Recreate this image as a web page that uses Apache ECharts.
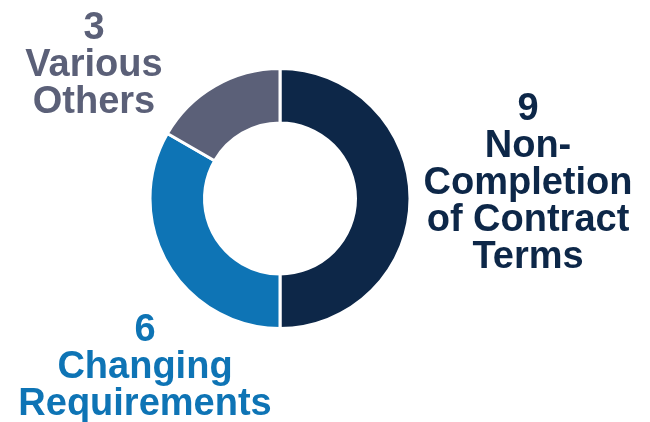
<!DOCTYPE html>
<html>
<head>
<meta charset="utf-8">
<script src="https://cdn.jsdelivr.net/npm/echarts@6/dist/echarts.min.js"></script>
<style>
html,body{margin:0;padding:0;background:#fff;}
#chart{width:650px;height:422px;}
</style>
</head>
<body>
<div id="chart"></div>
<script>
const categories = ['Non-\nCompletion\nof Contract\nTerms', 'Changing\nRequirements', 'Various\nOthers'];
const values = [9, 6, 3];
const colors = ['#0d2748', '#0e74b5', '#5b6078'];

// label anchor positions (layout only)
const labelPos = [
  { x: 528, y: 91 },
  { x: 145, y: 312 },
  { x: 94, y: 10 }
];

const chart = echarts.init(document.getElementById('chart'));
chart.setOption({
  animation: false,
  series: [{
    type: 'pie',
    center: [280, 198.5],
    radius: [75.5, 130],
    startAngle: 90,
    clockwise: true,
    itemStyle: { borderColor: '#ffffff', borderWidth: 3 },
    label: {
      show: true,
      formatter: '{c}\n{b}',
      fontFamily: 'Liberation Sans',
      fontWeight: 'bold',
      fontSize: 38,
      lineHeight: 37,
      align: 'center',
      overflow: 'none',
      width: 400
    },
    labelLine: { show: false },
    labelLayout: function (p) {
      const pos = labelPos[p.dataIndex];
      return { x: pos.x, y: pos.y, align: 'center', verticalAlign: 'top' };
    },
    emphasis: { disabled: true },
    data: categories.map((c, i) => ({
      name: c,
      value: values[i],
      itemStyle: { color: colors[i] },
      label: { color: colors[i] }
    }))
  }]
});
</script>
</body>
</html>
